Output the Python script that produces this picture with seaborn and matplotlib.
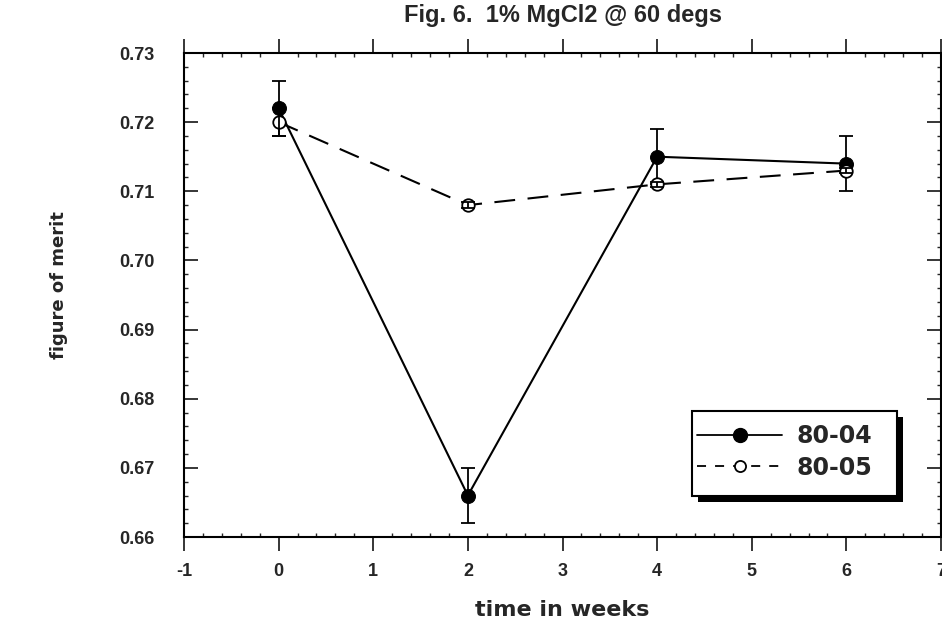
import numpy as np
import pandas as pd
import matplotlib
matplotlib.use("Agg")
import matplotlib.pyplot as plt
import seaborn as sns
from matplotlib.lines import Line2D
from matplotlib.patches import Rectangle
from matplotlib.ticker import MultipleLocator, FixedLocator

# ---- data ----
weeks = [0, 2, 4, 6]
fom_8004 = [0.722, 0.666, 0.715, 0.714]
err_8004 = [0.004, 0.004, 0.004, 0.004]
fom_8005 = [0.720, 0.708, 0.711, 0.713]
err_8005 = [0.002, 0.0004, 0.0004, 0.0004]
series_names = ["80-04", "80-05"]
x_ticks = [-1, 0, 1, 2, 3, 4, 5, 6, 7]
y_ticks = [0.66, 0.67, 0.68, 0.69, 0.70, 0.71, 0.72, 0.73]
title = "Fig. 6.  1% MgCl2 @ 60 degs"
xlabel = "time in weeks"
ylabel = "figure of merit"

sns.set_style("white")
plt.rcParams['font.family'] = ['Liberation Sans', 'DejaVu Sans']
plt.rcParams['font.weight'] = 'bold'

df1 = pd.DataFrame({"week": weeks, "fom": fom_8004})
df2 = pd.DataFrame({"week": weeks, "fom": fom_8005})

fig = plt.figure(figsize=(9.42, 6.27), dpi=100)
ax = fig.add_axes([184/942, 1-537/627, (941-184)/942, (537-53)/627])

sns.lineplot(data=df1, x="week", y="fom", ax=ax, color="black", lw=1.5,
             marker="o", markersize=10, markerfacecolor="black",
             markeredgecolor="black", zorder=3)
sns.lineplot(data=df2, x="week", y="fom", ax=ax, color="black", lw=1.5,
             marker="o", markersize=9, markerfacecolor="white",
             markeredgecolor="black", markeredgewidth=1.3, zorder=4)
ax.lines[1].set_linestyle((0, (10, 6)))

ax.errorbar(weeks, fom_8004, yerr=err_8004, fmt="none", ecolor="black",
            elinewidth=1.3, capsize=5, capthick=1.3, zorder=2)
ax.errorbar(weeks, fom_8005, yerr=err_8005, fmt="none", ecolor="black",
            elinewidth=1.3, capsize=5, capthick=1.3, zorder=5)

ax.set_xlim(-1, 7)
ax.set_ylim(0.66, 0.73)
ax.xaxis.set_major_locator(FixedLocator(x_ticks))
ax.yaxis.set_major_locator(FixedLocator(y_ticks))
ax.xaxis.set_minor_locator(MultipleLocator(0.2))
ax.yaxis.set_minor_locator(MultipleLocator(0.002))
ax.set_xticklabels([str(v) for v in x_ticks])
ax.set_yticklabels([f"{v:.2f}" for v in y_ticks])

for s in ax.spines.values():
    s.set_color("black")
    s.set_linewidth(1.5)

ax.tick_params(axis="x", which="major", direction="out", length=10, width=1.3,
               top=True, bottom=True, labelsize=13, pad=9)
ax.tick_params(axis="y", which="major", direction="in", length=10, width=1.3,
               left=True, right=True, labelsize=13, pad=21)
ax.tick_params(which="minor", direction="in", length=3, width=1,
               top=True, bottom=True, left=True, right=True)
for lab in ax.get_xticklabels() + ax.get_yticklabels():
    lab.set_fontweight("bold")

ax.set_xlabel(xlabel, fontsize=16, fontweight="bold", labelpad=14,
              family=['DejaVu Sans'])
ax.set_ylabel(ylabel, fontsize=13, fontweight="bold",
              family=['DejaVu Sans'])
ax.yaxis.set_label_coords((68-184)/757, (537-285)/484)
ax.set_title(title, fontsize=17, fontweight="bold", pad=22)

# legend: frame with black drop shadow drawn as patches
fx0, fx1 = (692-184)/757, (897-184)/757
fy0, fy1 = (537-496)/484, (537-411)/484
dx, dy = 6/757, 6/484
ax.add_patch(Rectangle((fx0+dx, fy0-dy), fx1-fx0, fy1-fy0, transform=ax.transAxes,
                       facecolor="black", edgecolor="none", zorder=6))
ax.add_patch(Rectangle((fx0, fy0), fx1-fx0, fy1-fy0, transform=ax.transAxes,
                       facecolor="white", edgecolor="black", lw=1.5, zorder=7))

h1 = Line2D([], [], color="black", lw=1.3, marker="o", markersize=10,
            markerfacecolor="black")
h2 = Line2D([], [], color="black", lw=1.3, linestyle=(0, (5, 5)), marker="o",
            markersize=8, markerfacecolor="white", markeredgewidth=1.3)
leg = ax.legend([h1, h2], series_names, loc="center left",
                bbox_to_anchor=((697-184)/757, (537-452)/484),
                frameon=False, numpoints=1, handlelength=3.6,
                handletextpad=0.6, borderaxespad=0, borderpad=0,
                labelspacing=0.3,
                prop={"weight": "bold", "size": 17, "family": "DejaVu Sans"})
leg.set_zorder(8)

fig.savefig("out.png", dpi=100)
